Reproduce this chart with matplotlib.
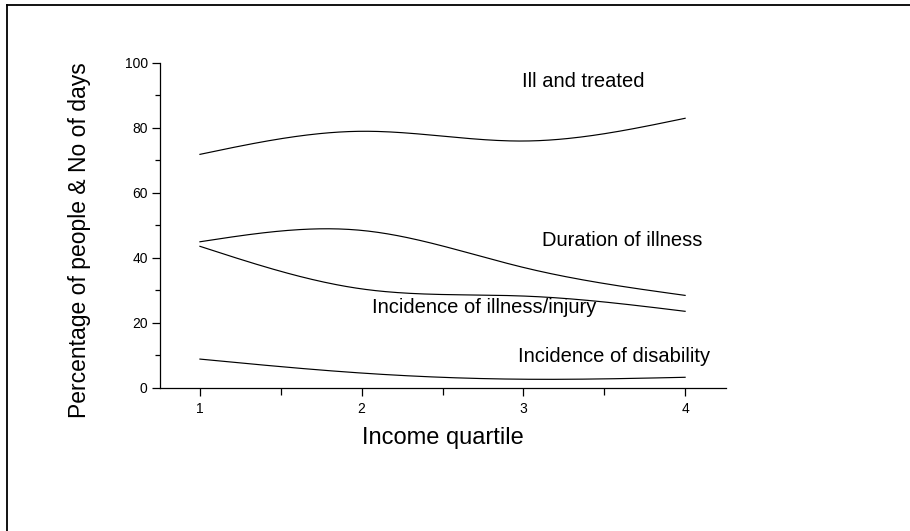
import numpy as np
import matplotlib
matplotlib.use('Agg')
import matplotlib.pyplot as plt
from matplotlib.lines import Line2D

plt.rcParams['font.family'] = ['Liberation Sans', 'DejaVu Sans']

# Values at each income quartile
quartiles = [1, 2, 3, 4]
ill_treated = [71.8, 78.9, 75.9, 82.9]
duration = [44.9, 48.4, 37.0, 28.4]
incidence_illness = [43.5, 30.4, 28.2, 23.5]
incidence_disability = [8.8, 4.5, 2.6, 3.2]

# Curve captions as in the picture
labels = ['Ill and treated', 'Duration of illness',
          'Incidence of illness/injury', 'Incidence of disability']
label_x = [3.37, 3.61, 2.76, 3.56]
label_y = [92.6, 43.6, 23.0, 8.0]


def natural_spline(x, y, n=200):
    # natural cubic spline through the points, used only for drawing
    x = np.asarray(x, float)
    y = np.asarray(y, float)
    k = len(x)
    h = np.diff(x)
    A = np.zeros((k, k))
    b = np.zeros(k)
    A[0, 0] = A[-1, -1] = 1
    for i in range(1, k - 1):
        A[i, i - 1] = h[i - 1]
        A[i, i] = 2 * (h[i - 1] + h[i])
        A[i, i + 1] = h[i]
        b[i] = 6 * ((y[i + 1] - y[i]) / h[i] - (y[i] - y[i - 1]) / h[i - 1])
    m = np.linalg.solve(A, b)
    xs = np.linspace(x[0], x[-1], n)
    idx = np.clip(np.searchsorted(x, xs) - 1, 0, k - 2)
    t0 = x[idx]
    t1 = x[idx + 1]
    hh = t1 - t0
    ys = (m[idx] * (t1 - xs) ** 3 / (6 * hh) + m[idx + 1] * (xs - t0) ** 3 / (6 * hh)
          + (y[idx] / hh - m[idx] * hh / 6) * (t1 - xs)
          + (y[idx + 1] / hh - m[idx + 1] * hh / 6) * (xs - t0))
    return xs, ys


fig = plt.figure(figsize=(9.1, 5.31), dpi=100)
ax = fig.add_axes([0.1753, 0.2699, 0.622, 0.612])

for series in [ill_treated, duration, incidence_illness, incidence_disability]:
    xs, ys = natural_spline(quartiles, series)
    ax.plot(xs, ys, color='black', linewidth=0.85)

for txt, tx, ty in zip(labels, label_x, label_y):
    ax.text(tx, ty, txt, fontsize=14.5, ha='center', va='baseline')

ax.set_xlim(0.75, 4.25)
ax.set_ylim(0, 100)
ax.set_xticks(quartiles)
ax.set_xticks([1.5, 2.5, 3.5], minor=True)
ax.set_yticks([0, 20, 40, 60, 80, 100])
ax.set_yticks([10, 30, 50, 70, 90], minor=True)
ax.tick_params(which='both', direction='out', labelsize=10, width=0.9)
ax.tick_params(which='major', length=6)
ax.tick_params(axis='x', which='minor', length=5)
ax.tick_params(axis='y', which='minor', length=3.5)
ax.tick_params(axis='x', pad=4)
ax.tick_params(axis='y', pad=2.5)

for side in ['top', 'right']:
    ax.spines[side].set_visible(False)
for side in ['left', 'bottom']:
    ax.spines[side].set_linewidth(0.9)

ax.set_xlabel('Income quartile', fontsize=17, va='baseline')
ax.xaxis.set_label_coords(0.5, -0.173)
ax.set_ylabel('Percentage of people & No of days', fontsize=16.5, va='baseline')
ax.yaxis.set_label_coords(-0.13, 0.453)

# page frame: only the top and left edges fall inside the image
fig.add_artist(Line2D([7 / 910, 1.0], [1 - 5 / 531, 1 - 5 / 531],
                      transform=fig.transFigure, color='black', linewidth=1.3))
fig.add_artist(Line2D([7 / 910, 7 / 910], [0.0, 1 - 5 / 531],
                      transform=fig.transFigure, color='black', linewidth=1.3))

fig.savefig('out.png', dpi=100)
